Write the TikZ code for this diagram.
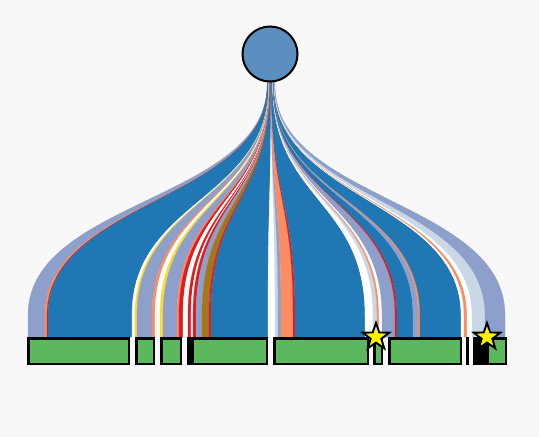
\documentclass[tikz,border=0pt]{standalone}
\usepackage{tikz}
\usetikzlibrary{shapes.geometric}

\definecolor{bgc}{HTML}{F8F8F8}
\definecolor{rootc}{HTML}{5A8FC0}
\definecolor{leafc}{HTML}{5CB85C}
\definecolor{blu}{HTML}{1F77B4}
\definecolor{lav}{HTML}{8DA0CB}
\definecolor{sal}{HTML}{FC8D62}
\definecolor{rd}{HTML}{E41A1C}
\definecolor{yel}{HTML}{FFD92F}
\definecolor{gold}{HTML}{A6761D}
\definecolor{pale}{HTML}{CAD7E6}
\definecolor{wht}{HTML}{FFFFFF}

% leaf box from x1 to x2 (outer edges)
\newcommand\leaf[4][]{%
  \node[leafbox,#1,minimum width={(#4-#3-2.5)*1pt}] (#2) at ({(#3+#4)/2},351) {};}

\begin{document}
\begin{tikzpicture}[
    x=1pt, y=-1pt,
    leafbox/.style={draw, rectangle, fill=leafc, line width=2.5pt, inner sep=0pt, minimum height=25.5pt},
    tickbox/.style={fill=black},
    rootnode/.style={draw, circle, fill=rootc, line width=2pt, inner sep=0pt, minimum size=55pt},
    starmark/.style={draw, star, star points=5, star point ratio=2.5, fill=yellow, line width=1.9pt, inner sep=0pt, minimum size=28pt}
]

\fill[bgc] (0,0) rectangle (539,437);

% Ribbons
\foreach \a/\b/\c in {28/45/lav, 45/47/sal, 47/48/rd, 48/132/blu, 132/135/wht,
    135/137/yel, 137/152/lav, 152/155/sal, 155/160/wht, 160/163/yel,
    163/177/lav, 177/179/sal, 179/183/rd, 183/188/wht, 188/191/rd,
    191/193/wht, 193/196/rd, 196/202/lav, 202/209/gold, 209/211/rd,
    211/268/blu, 268/275/wht, 275/278/pale, 278/281/lav, 281/293/sal,
    293/295/rd, 295/365/blu, 365/373/wht, 373/377/pale, 377/379/sal,
    379/382/wht, 382/395/lav, 395/397/rd, 397/413/blu, 413/418/lav,
    418/420/sal, 420/461/blu, 461/464/wht, 464/467/sal, 467/472/wht,
    472/485/pale, 485/505/lav}{
  \pgfmathsetmacro\ta{267+(\a-28)*8/477}
  \pgfmathsetmacro\tb{267+(\b-28)*8/477}
  \filldraw[fill=\c, draw=\c, line width=0.2pt]
    (\ta,70) -- (\ta,85) .. controls (\ta,200) and (\a,200) .. (\a,315) -- (\a,337)
    -- (\b,337) -- (\b,315) .. controls (\b,200) and (\tb,200) .. (\tb,85) -- (\tb,70) -- cycle;
}

% Nodes
\leaf{la}{27}{130}
\leaf{lb}{135}{155}
\leaf{lc}{160}{182}
\leaf[tickbox]{ld}{187}{193}
\leaf{le}{191}{268}
\leaf{lf}{273}{369}
\leaf{lg}{373}{383}
\leaf{lh}{388}{462}
\leaf[tickbox]{li}{466}{469}
\leaf[tickbox]{lj}{473}{477}
\leaf[tickbox]{lk}{477}{488}
\leaf{ll}{486}{507}

\node[starmark] (s1) at (376,337) {};
\node[starmark] (s2) at (487,337) {};

\node[rootnode] (root) at (270,54) {};

\end{tikzpicture}
\end{document}
